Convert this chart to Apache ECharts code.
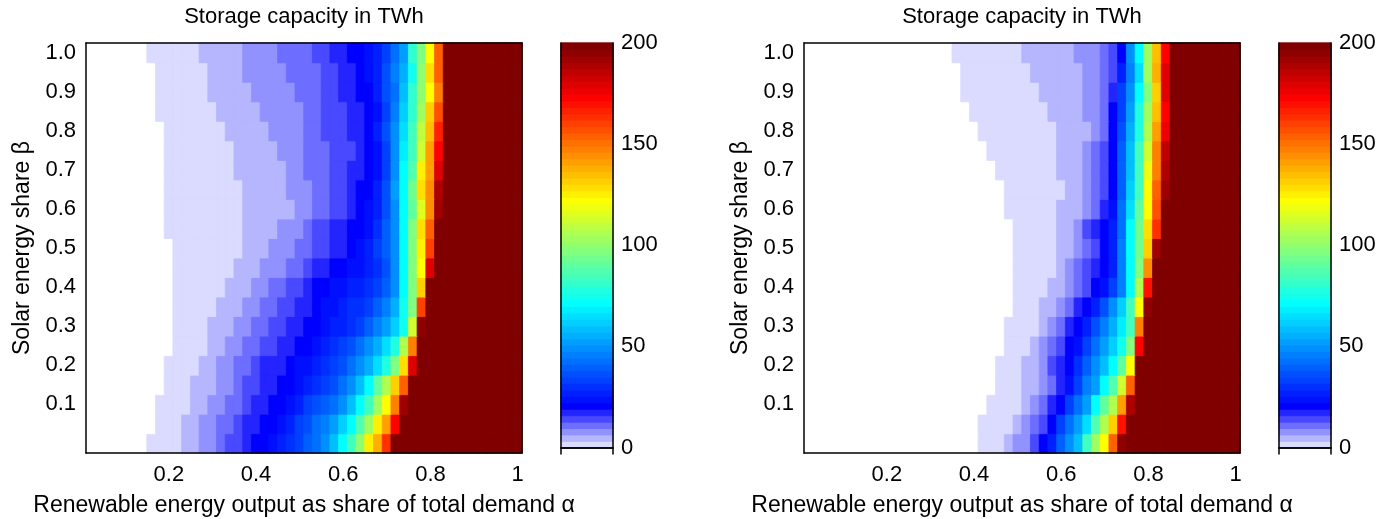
<!DOCTYPE html>
<html>
<head>
<meta charset="utf-8">
<script src="https://cdn.jsdelivr.net/npm/echarts@6/dist/echarts.min.js"></script>
<style>
html, body { margin: 0; background: #fff; }
#chart { width: 1394px; height: 519px; }
</style>
</head>
<body>
<div id="chart"></div>
<script>
// renewable share alpha (columns) and solar share beta (rows)
const alphas = [0.02, 0.04, 0.06, 0.08, 0.1, 0.12, 0.14, 0.16, 0.18, 0.2,
    0.22, 0.24, 0.26, 0.28, 0.3, 0.32, 0.34, 0.36, 0.38, 0.4,
    0.42, 0.44, 0.46, 0.48, 0.5, 0.52, 0.54, 0.56, 0.58, 0.6,
    0.62, 0.64, 0.66, 0.68, 0.7, 0.72, 0.74, 0.76, 0.78, 0.8,
    0.82, 0.84, 0.86, 0.88, 0.9, 0.92, 0.94, 0.96, 0.98, 1]
const betas = [0, 0.05, 0.1, 0.15, 0.2, 0.25, 0.3, 0.35, 0.4, 0.45, 0.5,
    0.55, 0.6, 0.65, 0.7, 0.75, 0.8, 0.85, 0.9, 0.95, 1]
const xTicks = [0.2, 0.4, 0.6, 0.8, 1]
const yTicks = [0.1, 0.2, 0.3, 0.4, 0.5, 0.6, 0.7, 0.8, 0.9, 1]
const cbarTicks = [0, 50, 100, 150, 200]

// storage capacity in TWh, one row per beta (0 -> 1), read left to right
// [v, n] = n cells with value v, plain number = one cell, 200 = saturated
const storageLeft = [
    [[0,7],[2,4],[5,2],[8,2],11,[14,2],17,[21,2],24,27,30,33,40,43,49,59,71,84,100,125,138,163,[200,15]],
    [[0,8],[2,3],[5,2],[8,2],[11,2],14,[17,2],[21,2],24,27,33,37,43,46,52,62,71,87,103,125,141,173,[200,14]],
    [[0,8],[2,4],[5,2],[8,2],[11,2],14,[17,2],[21,2],24,27,33,37,40,43,49,59,71,84,103,122,148,192,[200,13]],
    [[0,9],[2,3],[5,3],[8,2],11,[14,2],[17,2],[21,2],24,27,30,33,37,43,49,59,71,90,106,132,154,[200,13]],
    [[0,9],[2,4],[5,2],[8,2],[11,2],14,[17,3],21,24,24,27,30,33,37,43,49,56,65,78,97,129,179,[200,12]],
    [[0,10],[2,4],[5,2],[8,2],[11,2],[14,2],[17,2],[21,2],24,27,30,33,37,43,49,56,65,78,106,148,[200,12]],
    [[0,10],[2,4],[5,3],[8,2],[11,2],[14,2],[17,2],[21,2],24,27,27,30,33,40,46,52,62,75,113,195,[200,11]],
    [[0,10],[2,5],[5,3],[8,2],[11,2],[14,2],[17,2],21,24,24,27,30,30,33,40,46,56,75,97,160,[200,11]],
    [[0,10],[2,6],[5,3],[8,2],[11,2],[14,2],17,21,21,24,24,27,27,30,33,40,49,71,97,132,[200,11]],
    [[0,10],[2,7],[5,3],[8,3],[11,2],14,17,17,21,21,24,24,27,30,37,49,71,97,122,179,[200,10]],
    [[0,10],[2,8],[5,3],[8,3],[11,2],[14,2],[17,2],21,24,27,33,40,49,71,97,125,160,[200,10]],
    [[0,9],[2,9],[5,4],[8,3],11,[14,2],[17,2],[21,2],24,30,40,49,71,97,129,154,[200,10]],
    [[0,9],[2,9],[5,6],[8,2],[11,2],[14,2],17,21,24,27,37,49,71,90,116,144,192,[200,9]],
    [[0,9],[2,9],[5,5],[8,3],[11,2],[14,2],17,[21,2],27,37,52,71,94,129,144,189,[200,9]],
    [[0,9],[2,8],[5,6],[8,2],[11,3],[14,2],[17,2],21,24,33,49,71,87,125,141,179,[200,9]],
    [[0,9],[2,8],[5,5],[8,3],[11,3],[14,3],17,21,24,33,49,68,84,113,141,173,[200,9]],
    [[0,9],[2,7],[5,5],[8,4],[11,2],[14,3],[17,2],21,27,37,49,65,84,110,135,167,[200,9]],
    [[0,8],[2,7],[5,5],[8,5],[11,2],[14,3],[17,2],21,24,33,46,62,81,103,132,157,[200,9]],
    [[0,8],[2,6],[5,5],[8,5],[11,3],[14,2],[17,2],[21,2],27,37,43,59,81,100,122,148,[200,9]],
    [[0,8],[2,6],[5,4],[8,5],[11,4],[14,2],[17,2],21,24,27,37,46,56,75,100,129,154,[200,9]],
    [[0,7],[2,6],[5,5],[8,4],[11,4],[14,2],[17,2],[21,2],24,27,33,43,52,81,97,122,154,[200,9]]
]

const storageRight = [
    [[0,20],[2,3],5,[8,2],14,21,27,40,49,59,84,103,122,154,195,[200,13]],
    [[0,20],[2,4],5,8,11,14,21,33,43,52,65,87,106,132,170,[200,13]],
    [[0,21],[2,4],5,8,11,17,21,33,43,52,71,90,106,141,189,[200,12]],
    [[0,22],[2,3],[5,2],8,11,17,24,33,46,52,71,87,113,154,[200,12]],
    [[0,22],[2,3],[5,2],8,14,17,21,30,40,49,59,71,90,122,[200,12]],
    [[0,23],[2,3],5,8,11,14,21,24,33,43,52,62,75,97,173,[200,11]],
    [[0,23],[2,4],5,8,11,17,21,27,37,46,56,68,84,148,[200,11]],
    [[0,24],[2,3],[5,2],8,11,17,21,27,37,49,62,84,122,195,[200,10]],
    [[0,24],[2,4],[5,2],8,11,14,21,24,33,46,71,106,170,[200,10]],
    [[0,24],[2,5],5,8,11,14,17,21,27,46,71,97,144,[200,10]],
    [[0,24],[2,5],[5,2],8,11,14,21,27,46,71,94,132,192,[200,9]],
    [[0,24],[2,5],[5,2],8,14,17,21,27,43,71,94,129,163,[200,9]],
    [[0,23],[2,6],[5,3],8,11,17,24,43,65,90,122,157,[200,9]],
    [[0,23],[2,7],[5,2],8,11,14,21,40,62,84,122,154,192,[200,8]],
    [[0,22],[2,7],[5,3],8,11,14,21,40,59,84,119,148,189,[200,8]],
    [[0,21],[2,8],[5,3],8,11,14,21,40,59,84,113,148,186,[200,8]],
    [[0,20],[2,9],[5,4],8,11,21,37,56,78,106,141,176,[200,8]],
    [[0,19],[2,9],[5,4],[8,2],11,21,33,52,78,103,135,173,[200,8]],
    [[0,18],[2,9],[5,5],[8,2],11,17,33,49,71,97,132,179,[200,8]],
    [[0,18],[2,8],[5,6],[8,2],11,14,27,46,65,103,138,179,[200,8]],
    [[0,17],[2,8],[5,6],[8,3],11,14,21,49,71,103,135,173,[200,8]]
]

const FONT = '"Liberation Sans", Arial, sans-serif'

// colormap: 64 levels, white -> blue in the first 8, jet above
const nColors = 64
const band = 200 / (nColors - 1)
const jetPart = (j) => {
    if (j < 1 || j > 47) return 0
    if (j <= 16) return j / 16
    if (j <= 32) return 1
    return (48 - j) / 16
}
const cmapColor = (i) => {
    let r, g, b
    if (i <= 8) {
        r = g = (8 - i) / 7
        b = 1
    } else {
        r = jetPart(i - 24)
        g = jetPart(i - 8)
        b = jetPart(i + 8)
    }
    return `rgb(${Math.round(r * 255)},${Math.round(g * 255)},${Math.round(b * 255)})`
}
// colour level (1..64) of a value, same bins as the visualMap pieces
const levelOf = (v) => (v <= 0 ? 1 : Math.min(nColors, Math.ceil(v / band) + 1))

const pieces = []
const cbarLevels = []
const cbarValues = []
for (let i = 1; i <= nColors; i++) {
    const p = { color: cmapColor(i) }
    if (i === 1) p.lte = 0
    else {
        p.gt = (i - 2) * band
        if (i < nColors) p.lte = (i - 1) * band
    }
    pieces.push(p)
    cbarLevels.push(String(i))
    cbarValues.push(i === 1 ? 0 : (i - 1.5) * band)
}

// a thin border in the cell's own colour hides the seams between cells
const cell = (x, y, v) => ({
    value: [x, y, v],
    itemStyle: { borderColor: cmapColor(levelOf(v)), borderWidth: 0.8 }
})

const expandRow = (row) => {
    const out = []
    row.forEach((r) => {
        if (Array.isArray(r)) for (let n = 0; n < r[1]; n++) out.push(r[0])
        else out.push(r)
    })
    return out
}
const toCells = (rows) => {
    const cells = []
    rows.forEach((row, yi) => {
        expandRow(row).forEach((v, xi) => cells.push(cell(xi, yi, v)))
    })
    return cells
}

const isXTick = (idx, v) => xTicks.includes(Number(v))
const isYTick = (idx, v) => yTicks.includes(Number(v))
const line = { show: true, lineStyle: { color: '#000', width: 1.5 } }
const tickStyle = { color: '#000', width: 1.2 }
const labelStyle = { color: '#000', fontSize: 22, fontFamily: FONT }

const gridBase = { containLabel: false, outerBoundsMode: 'none' }
const plotGrids = [
    { ...gridBase, left: 86, top: 43, width: 436, height: 410 },
    { ...gridBase, left: 804, top: 43, width: 436, height: 410 }
]
const cbarGrids = [
    { ...gridBase, left: 561, top: 43, width: 52, height: 411 },
    { ...gridBase, left: 1279, top: 43, width: 52, height: 411 }
]

const xAxes = []
const yAxes = []
const series = []

plotGrids.forEach((g, gi) => {
    ;['bottom', 'top'].forEach((pos) => {
        xAxes.push({
            gridIndex: gi, type: 'category', data: alphas, position: pos, z: 5,
            axisLine: line,
            axisTick: { inside: true, length: 5, alignWithLabel: true, interval: isXTick, lineStyle: tickStyle },
            axisLabel: { show: pos === 'bottom', interval: isXTick, formatter: (v) => String(Number(v)), margin: 11, ...labelStyle },
            splitLine: { show: false },
            name: pos === 'bottom' ? 'Renewable energy output as share of total demand α' : 'Storage capacity in TWh',
            nameLocation: 'middle',
            nameGap: pos === 'bottom' ? 41 : 15,
            nameTextStyle: { color: '#000', fontSize: pos === 'bottom' ? 23 : 22, fontFamily: FONT }
        })
    })
    ;['left', 'right'].forEach((pos) => {
        yAxes.push({
            gridIndex: gi, type: 'category', data: betas, position: pos, z: 5,
            axisLine: line,
            axisTick: { inside: true, length: 5, alignWithLabel: true, interval: isYTick, lineStyle: tickStyle },
            axisLabel: { show: pos === 'left', interval: isYTick, formatter: (v) => Number(v).toFixed(1), margin: 10, ...labelStyle },
            splitLine: { show: false },
            name: pos === 'left' ? 'Solar energy share β' : '',
            nameLocation: 'middle', nameRotate: 90, nameGap: 52,
            nameTextStyle: { color: '#000', fontSize: 23, fontFamily: FONT }
        })
    })
    series.push({
        type: 'heatmap',
        xAxisIndex: gi * 2, yAxisIndex: gi * 2,
        data: toCells(gi === 0 ? storageLeft : storageRight),
        emphasis: { disabled: true },
        progressive: 0
    })
})

cbarGrids.forEach((g, ci) => {
    const gi = ci + 2
    const xBase = xAxes.length
    const yBase = yAxes.length
    ;['bottom', 'top'].forEach((pos) => {
        xAxes.push({
            gridIndex: gi, type: 'category', data: [''], position: pos, z: 5,
            axisLine: line, axisTick: { show: false }, axisLabel: { show: false }
        })
    })
    yAxes.push({ gridIndex: gi, type: 'category', data: cbarLevels, show: false })
    ;['right', 'left'].forEach((pos) => {
        yAxes.push({
            gridIndex: gi, type: 'value', min: -band, max: 200, position: pos, z: 5,
            axisLine: line,
            axisTick: { inside: true, length: 5, customValues: cbarTicks, lineStyle: tickStyle },
            axisLabel: { show: pos === 'right', customValues: cbarTicks, margin: 8, ...labelStyle },
            splitLine: { show: false }
        })
    })
    series.push({
        type: 'heatmap',
        xAxisIndex: xBase, yAxisIndex: yBase,
        data: cbarValues.map((v, i) => cell(0, i, v)),
        emphasis: { disabled: true },
        progressive: 0
    })
})

const chart = echarts.init(document.getElementById('chart'))
chart.setOption({
    backgroundColor: '#fff',
    animation: false,
    grid: plotGrids.concat(cbarGrids),
    xAxis: xAxes,
    yAxis: yAxes,
    visualMap: {
        type: 'piecewise',
        show: false,
        seriesIndex: [0, 1, 2, 3],
        pieces: pieces
    },
    series: series
})
</script>
</body>
</html>
